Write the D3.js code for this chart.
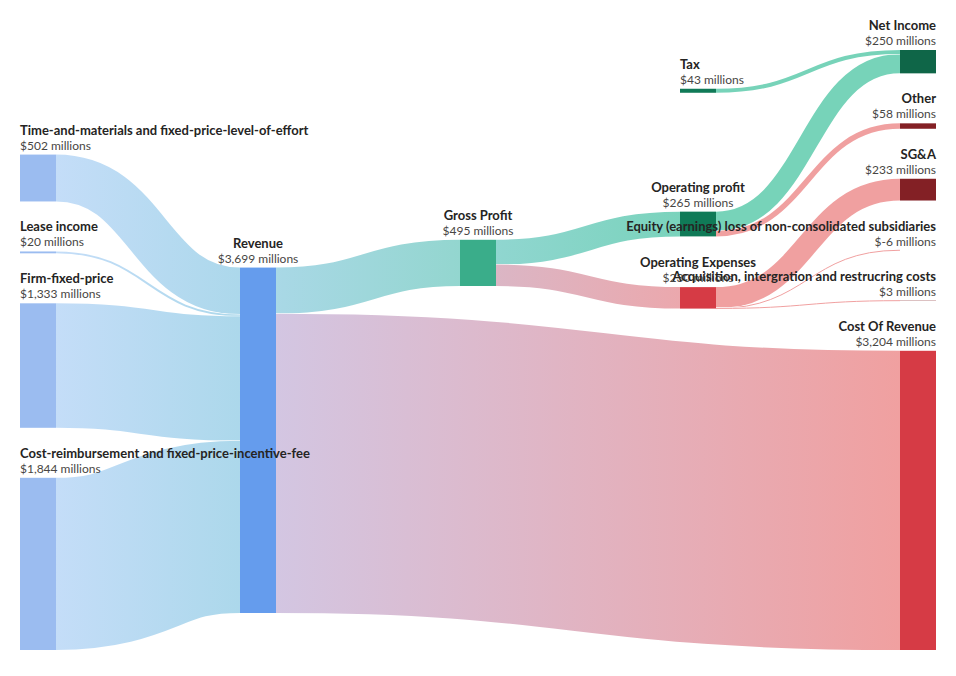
<!DOCTYPE html>
<html>
<head>
<meta charset="utf-8">
<script src="https://cdn.jsdelivr.net/npm/d3@7"></script>
<style>
  body { margin: 0; background: #fff; }
  text { font-family: Lato, "Open Sans", sans-serif; }
</style>
</head>
<body>
<div id="chart"></div>
<script>
// chart values
const nodeIds = ['tm', 'lease', 'ffp', 'cr', 'revenue', 'gross', 'tax', 'opProfit', 'opExp', 'net', 'other', 'sga', 'equity', 'acq', 'cost'];
const nodeLabels = [
  'Time-and-materials and fixed-price-level-of-effort',
  'Lease income',
  'Firm-fixed-price',
  'Cost-reimbursement and fixed-price-incentive-fee',
  'Revenue',
  'Gross Profit',
  'Tax',
  'Operating profit',
  'Operating Expenses',
  'Net Income',
  'Other',
  'SG&A',
  'Equity (earnings) loss of non-consolidated subsidiaries',
  'Acquisition, intergration and restrucring costs',
  'Cost Of Revenue'
];
const linkFrom = ['tm', 'lease', 'ffp', 'cr', 'revenue', 'revenue', 'gross', 'gross', 'opProfit', 'opProfit', 'tax', 'opExp', 'opExp', 'opExp'];
const linkTo = ['revenue', 'revenue', 'revenue', 'revenue', 'gross', 'cost', 'opProfit', 'opExp', 'net', 'other', 'net', 'sga', 'equity', 'acq'];
const linkValues = [502, 20, 1333, 1844, 495, 3204, 265, 230, 207, 58, 43, 233, -6, 3];

// styles
const nodeColor = {
  tm: '#9bbcf0', lease: '#9bbcf0', ffp: '#9bbcf0', cr: '#9bbcf0',
  revenue: '#659ced', gross: '#3aad8a', cost: '#d63b45',
  opProfit: '#107a57', opExp: '#d63b45', tax: '#107a57',
  net: '#0f6648', other: '#832025', sga: '#832025', equity: '#832025', acq: '#832025'
};
const green = '#77d3b9', pink = '#f0a0a0';
const linkStops = {
  'revenue>gross': ['#a9d8e6', '#93d6cf'],
  'revenue>cost': ['#d3c6e2', pink],
  'gross>opProfit': ['#90d6d0', '#7ad3bc'],
  'gross>opExp': ['#dbb6c5', '#eba8ad'],
  'opProfit>net': [green, green],
  'tax>net': [green, green],
  'opProfit>other': [pink, pink],
  'opExp>sga': [pink, pink],
  'opExp>equity': [pink, pink],
  'opExp>acq': [pink, pink]
};
const revenueStops = ['#c4ddf8', '#acd8eb'];

let svgWidth = 956;
let svgHeight = 676;
let extent = { x0: 20, y0: 50, x1: 936, y1: 650 };
let nodeWidth = 36;
let nodePadding = 50;

let svg = d3.select('#chart')
  .append('svg')
  .attr('width', svgWidth)
  .attr('height', svgHeight);

// small sankey layout (same steps as d3-sankey, right aligned, nodes kept in input order)
function sankey(nodes, links) {
  let byId = new Map(nodes.map(n => [n.id, n]));
  nodes.forEach((n, i) => { n.index = i; n.sourceLinks = []; n.targetLinks = []; });
  links.forEach((l, i) => {
    l.index = i;
    l.source = byId.get(l.from);
    l.target = byId.get(l.to);
    l.source.sourceLinks.push(l);
    l.target.targetLinks.push(l);
  });
  nodes.forEach(n => {
    n.value = Math.max(d3.sum(n.sourceLinks, l => l.value), d3.sum(n.targetLinks, l => l.value));
  });

  // depths and heights
  let current = new Set(nodes), next = new Set(), x = 0;
  while (current.size) {
    for (const n of current) { n.depth = x; for (const l of n.sourceLinks) next.add(l.target); }
    x++; current = next; next = new Set();
  }
  current = new Set(nodes); next = new Set(); x = 0;
  while (current.size) {
    for (const n of current) { n.height = x; for (const l of n.targetLinks) next.add(l.source); }
    x++; current = next; next = new Set();
  }

  let nCols = d3.max(nodes, n => n.depth) + 1;
  let kx = (extent.x1 - extent.x0 - nodeWidth) / (nCols - 1);
  let columns = d3.range(nCols).map(() => []);
  nodes.forEach(n => {
    n.layer = nCols - 1 - n.height;
    n.x0 = extent.x0 + n.layer * kx;
    n.x1 = n.x0 + nodeWidth;
    columns[n.layer].push(n);
  });

  let py = Math.min(nodePadding, (extent.y1 - extent.y0) / (d3.max(columns, c => c.length) - 1));
  let byBreadth = (a, b) => a.y0 - b.y0;
  let bySource = (a, b) => byBreadth(a.source, b.source) || a.index - b.index;
  let byTarget = (a, b) => byBreadth(a.target, b.target) || a.index - b.index;

  function reorderNodeLinks(n) {
    for (const l of n.targetLinks) l.source.sourceLinks.sort(byTarget);
    for (const l of n.sourceLinks) l.target.targetLinks.sort(bySource);
  }

  let ky = d3.min(columns, c => (extent.y1 - extent.y0 - (c.length - 1) * py) / d3.sum(c, n => n.value));
  columns.forEach(col => {
    let y = extent.y0;
    col.forEach(n => {
      n.y0 = y;
      n.y1 = y + n.value * ky;
      y = n.y1 + py;
      n.sourceLinks.forEach(l => { l.width = l.value * ky; });
    });
    y = (extent.y1 - y + py) / (col.length + 1);
    col.forEach((n, i) => { n.y0 += y * (i + 1); n.y1 += y * (i + 1); });
    col.forEach(n => { n.sourceLinks.sort(byTarget); n.targetLinks.sort(bySource); });
  });

  function targetTop(source, target) {
    let y = source.y0 - (source.sourceLinks.length - 1) * py / 2;
    for (const l of source.sourceLinks) { if (l.target === target) break; y += l.width + py; }
    for (const l of target.targetLinks) { if (l.source === source) break; y -= l.width; }
    return y;
  }
  function sourceTop(source, target) {
    let y = target.y0 - (target.targetLinks.length - 1) * py / 2;
    for (const l of target.targetLinks) { if (l.source === source) break; y += l.width + py; }
    for (const l of source.sourceLinks) { if (l.target === target) break; y -= l.width; }
    return y;
  }
  function topToBottom(col, y, i, alpha) {
    for (; i < col.length; ++i) {
      let n = col[i], dy = (y - n.y0) * alpha;
      if (dy > 1e-6) { n.y0 += dy; n.y1 += dy; }
      y = n.y1 + py;
    }
  }
  function bottomToTop(col, y, i, alpha) {
    for (; i >= 0; --i) {
      let n = col[i], dy = (n.y1 - y) * alpha;
      if (dy > 1e-6) { n.y0 -= dy; n.y1 -= dy; }
      y = n.y0 - py;
    }
  }
  function resolveCollisions(col, alpha) {
    let i = col.length >> 1, subject = col[i];
    bottomToTop(col, subject.y0 - py, i - 1, alpha);
    topToBottom(col, subject.y1 + py, i + 1, alpha);
    bottomToTop(col, extent.y1, col.length - 1, alpha);
    topToBottom(col, extent.y0, 0, alpha);
  }

  let iterations = 6;
  for (let it = 0; it < iterations; ++it) {
    let alpha = Math.pow(0.99, it);
    let beta = Math.max(1 - alpha, (it + 1) / iterations);
    for (let i = nCols - 2; i >= 0; --i) {
      let col = columns[i];
      col.forEach(s => {
        let y = 0, w = 0;
        s.sourceLinks.forEach(l => {
          let v = l.value * (l.target.layer - s.layer);
          y += sourceTop(s, l.target) * v; w += v;
        });
        if (!(w > 0)) return;
        let dy = (y / w - s.y0) * alpha;
        s.y0 += dy; s.y1 += dy;
        reorderNodeLinks(s);
      });
      resolveCollisions(col, beta);
    }
    for (let i = 1; i < nCols; ++i) {
      let col = columns[i];
      col.forEach(t => {
        let y = 0, w = 0;
        t.targetLinks.forEach(l => {
          let v = l.value * (t.layer - l.source.layer);
          y += targetTop(l.source, t) * v; w += v;
        });
        if (!(w > 0)) return;
        let dy = (y / w - t.y0) * alpha;
        t.y0 += dy; t.y1 += dy;
        reorderNodeLinks(t);
      });
      resolveCollisions(col, beta);
    }
  }

  nodes.forEach(n => {
    let y0 = n.y0, y1 = n.y0;
    n.sourceLinks.forEach(l => { l.y0 = y0 + l.width / 2; y0 += l.width; });
    n.targetLinks.forEach(l => { l.y1 = y1 + l.width / 2; y1 += l.width; });
  });
  return { nodes, links };
}

let graph = sankey(
  nodeIds.map((id, i) => ({ id: id, name: nodeLabels[i] })),
  linkValues.map((v, i) => ({ from: linkFrom[i], to: linkTo[i], value: v }))
);

let fmt = d3.formatLocale({ decimal: '.', thousands: ',', grouping: [3], currency: ['$', ''], minus: '-' }).format(',');

// gradients
let defs = svg.append('defs');
graph.links.forEach(l => {
  let stops = linkStops[l.from + '>' + l.to] || revenueStops;
  let grad = defs.append('linearGradient')
    .attr('id', 'grad' + l.index)
    .attr('gradientUnits', 'userSpaceOnUse')
    .attr('x1', l.source.x1)
    .attr('x2', l.target.x0);
  grad.append('stop').attr('offset', '0%').attr('stop-color', stops[0]);
  grad.append('stop').attr('offset', '100%').attr('stop-color', stops[1]);
});

let linkPath = d3.linkHorizontal()
  .source(d => [d.source.x1, d.y0])
  .target(d => [d.target.x0, d.y1]);

let linkG = svg.append('g').attr('fill', 'none');
graph.links.forEach(l => {
  let w = Math.max(1, l.width);
  linkG.append('path')
    .attr('d', linkPath(l))
    .attr('stroke', '#fff')
    .attr('stroke-width', w + 1);
  linkG.append('path')
    .attr('d', linkPath(l))
    .attr('stroke', `url(#grad${l.index})`)
    .attr('stroke-width', w);
});

// nodes
svg.append('g')
  .selectAll('rect')
  .data(graph.nodes)
  .enter()
  .append('rect')
  .attr('x', d => d.x0)
  .attr('y', d => d.y0)
  .attr('width', d => d.x1 - d.x0)
  .attr('height', d => Math.max(0, d.y1 - d.y0))
  .attr('fill', d => nodeColor[d.id]);

// labels: sources left aligned, sinks right aligned, the rest centred
let labels = svg.append('g')
  .selectAll('g')
  .data(graph.nodes)
  .enter()
  .append('g')
  .attr('text-anchor', d => !d.targetLinks.length ? 'start' : !d.sourceLinks.length ? 'end' : 'middle')
  .attr('transform', d => {
    let x = !d.targetLinks.length ? d.x0 : !d.sourceLinks.length ? d.x1 : (d.x0 + d.x1) / 2;
    return `translate(${x}, ${d.y0})`;
  });

labels.append('text')
  .attr('y', -20)
  .attr('font-size', '13px')
  .attr('font-weight', 700)
  .attr('fill', '#252423')
  .text(d => d.name);

labels.append('text')
  .attr('y', -5)
  .attr('font-size', '12px')
  .attr('fill', '#484644')
  .text(d => {
    let v = d.sourceLinks.length ? d3.sum(d.sourceLinks, l => l.value) : d3.sum(d.targetLinks, l => l.value);
    return `$${fmt(v)} millions`;
  });
</script>
</body>
</html>
